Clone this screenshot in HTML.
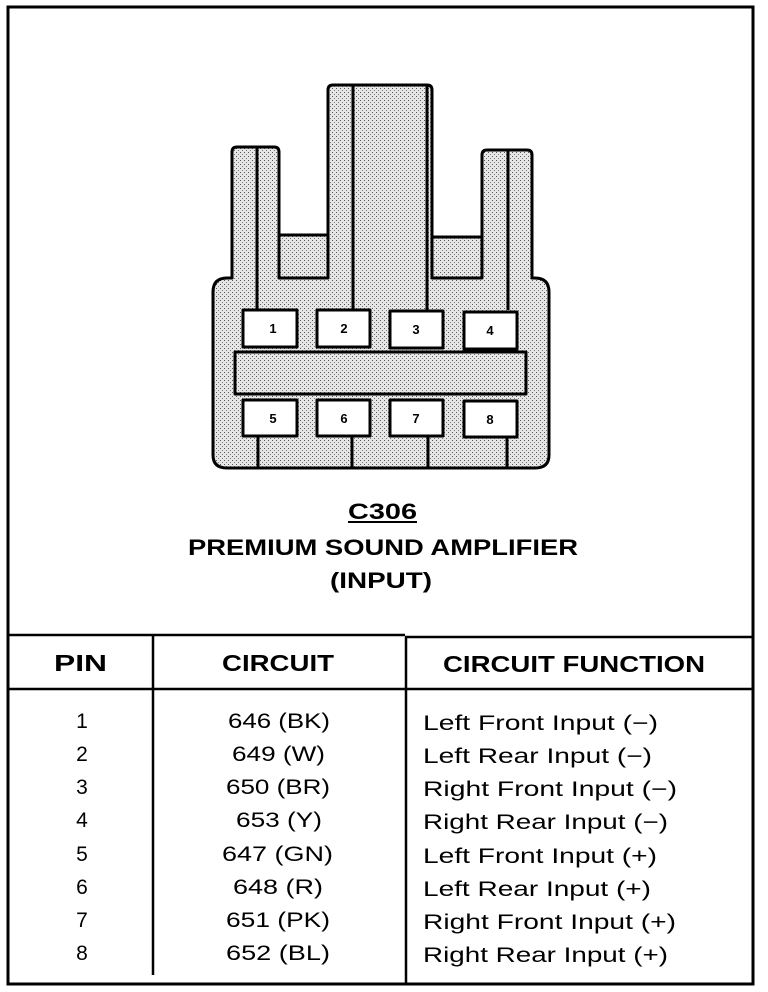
<!DOCTYPE html>
<html><head><meta charset="utf-8"><style>
html,body{margin:0;padding:0;background:#fff;width:768px;height:992px;overflow:hidden}
svg text{font-family:"Liberation Sans",Arial,sans-serif;fill:#000}
</style></head><body>
<svg width="768" height="992" viewBox="0 0 768 992" xmlns="http://www.w3.org/2000/svg">
<defs>
<pattern id="dots" width="4" height="4" patternUnits="userSpaceOnUse">
<rect width="4" height="4" fill="#e6e6e6"/>
<rect x="0" y="0" width="1" height="1" fill="#555"/>
<rect x="2" y="2" width="1" height="1" fill="#777"/>
</pattern>
</defs>
<rect x="8" y="7" width="745" height="977" fill="none" stroke="#000" stroke-width="3"/>

<g stroke="#000" stroke-width="3" fill="url(#dots)" stroke-linejoin="round">
<path d="M232 278 V152 Q232 147 237 147 H274 Q279 147 279 152 V235 H328 V90 Q328 85 333 85 H427 Q432 85 432 90 V237 H482 V155 Q482 150 487 150 H527 Q532 150 532 155 V278 H535 Q549 278 549 292 V455 Q549 468 535 468 H227 Q213 468 213 455 V292 Q213 278 227 278 Z"/>
<rect x="279" y="235" width="49" height="43"/>
<rect x="432" y="237" width="50" height="41"/>
<line x1="257" y1="148" x2="257" y2="310"/>
<line x1="353" y1="86" x2="353" y2="310"/>
<line x1="427" y1="86" x2="427" y2="310"/>
<line x1="508" y1="151" x2="508" y2="310"/>
<line x1="258" y1="436" x2="258" y2="467"/>
<line x1="352" y1="436" x2="352" y2="467"/>
<line x1="428" y1="436" x2="428" y2="467"/>
<line x1="507" y1="436" x2="507" y2="467"/>
<rect x="235" y="352" width="291" height="42"/>
<g fill="#fff">
<rect x="243" y="310" width="54" height="37"/>
<rect x="317" y="310" width="53" height="37"/>
<rect x="390" y="311" width="53" height="37"/>
<rect x="464" y="312" width="53" height="37"/>
<rect x="243" y="400" width="54" height="36"/>
<rect x="317" y="400" width="53" height="36"/>
<rect x="390" y="400" width="53" height="36"/>
<rect x="464" y="401" width="53" height="36"/>
</g>
</g>
<g font-size="13" font-weight="bold" text-anchor="middle">
<text x="273" y="333">1</text><text x="344" y="333">2</text><text x="416" y="334">3</text><text x="490" y="335">4</text>
<text x="273" y="423">5</text><text x="344" y="423">6</text><text x="416" y="423">7</text><text x="490" y="424">8</text>
</g>

<g font-size="22" font-weight="bold" lengthAdjust="spacingAndGlyphs">
<text x="348" y="519" textLength="69" lengthAdjust="spacingAndGlyphs">C306</text>
<text x="188" y="555" textLength="390" lengthAdjust="spacingAndGlyphs">PREMIUM SOUND AMPLIFIER</text>
<text x="330" y="588" textLength="102" lengthAdjust="spacingAndGlyphs">(INPUT)</text>
</g>
<line x1="348" y1="522" x2="417" y2="522" stroke="#000" stroke-width="2"/>

<g stroke="#000" stroke-width="2.5">
<line x1="9" y1="635" x2="405" y2="635"/>
<line x1="405" y1="637" x2="752" y2="637"/>
<line x1="9" y1="689" x2="752" y2="689"/>
<line x1="153" y1="635" x2="153" y2="975"/>
<line x1="406" y1="637" x2="406" y2="983"/>
</g>
<g font-size="23" font-weight="bold">
<text x="54" y="671" textLength="53" lengthAdjust="spacingAndGlyphs">PIN</text>
<text x="222" y="671" textLength="112" lengthAdjust="spacingAndGlyphs">CIRCUIT</text>
<text x="443" y="672" textLength="262" lengthAdjust="spacingAndGlyphs">CIRCUIT FUNCTION</text>
</g>
<g font-size="21" text-anchor="middle">
<text x="82" y="728">1</text><text x="82" y="761">2</text><text x="82" y="794">3</text><text x="82" y="827">4</text>
<text x="82" y="861">5</text><text x="82" y="894">6</text><text x="82" y="927">7</text><text x="82" y="960">8</text>
</g>
<g font-size="21">
<text x="228" y="728" textLength="102" lengthAdjust="spacingAndGlyphs">646 (BK)</text>
<text x="232" y="761" textLength="93" lengthAdjust="spacingAndGlyphs">649 (W)</text>
<text x="226" y="794" textLength="104" lengthAdjust="spacingAndGlyphs">650 (BR)</text>
<text x="236" y="827" textLength="86" lengthAdjust="spacingAndGlyphs">653 (Y)</text>
<text x="222" y="861" textLength="111" lengthAdjust="spacingAndGlyphs">647 (GN)</text>
<text x="233" y="894" textLength="90" lengthAdjust="spacingAndGlyphs">648 (R)</text>
<text x="226" y="927" textLength="104" lengthAdjust="spacingAndGlyphs">651 (PK)</text>
<text x="226" y="960" textLength="104" lengthAdjust="spacingAndGlyphs">652 (BL)</text>
<text x="423" y="730" textLength="235" lengthAdjust="spacingAndGlyphs">Left Front Input (−)</text>
<text x="423" y="763" textLength="229" lengthAdjust="spacingAndGlyphs">Left Rear Input (−)</text>
<text x="423" y="796" textLength="254" lengthAdjust="spacingAndGlyphs">Right Front Input (−)</text>
<text x="423" y="829" textLength="245" lengthAdjust="spacingAndGlyphs">Right Rear Input (−)</text>
<text x="423" y="863" textLength="234" lengthAdjust="spacingAndGlyphs">Left Front Input (+)</text>
<text x="423" y="896" textLength="228" lengthAdjust="spacingAndGlyphs">Left Rear Input (+)</text>
<text x="423" y="929" textLength="253" lengthAdjust="spacingAndGlyphs">Right Front Input (+)</text>
<text x="423" y="962" textLength="245" lengthAdjust="spacingAndGlyphs">Right Rear Input (+)</text>
</g>
</svg>
</body></html>
